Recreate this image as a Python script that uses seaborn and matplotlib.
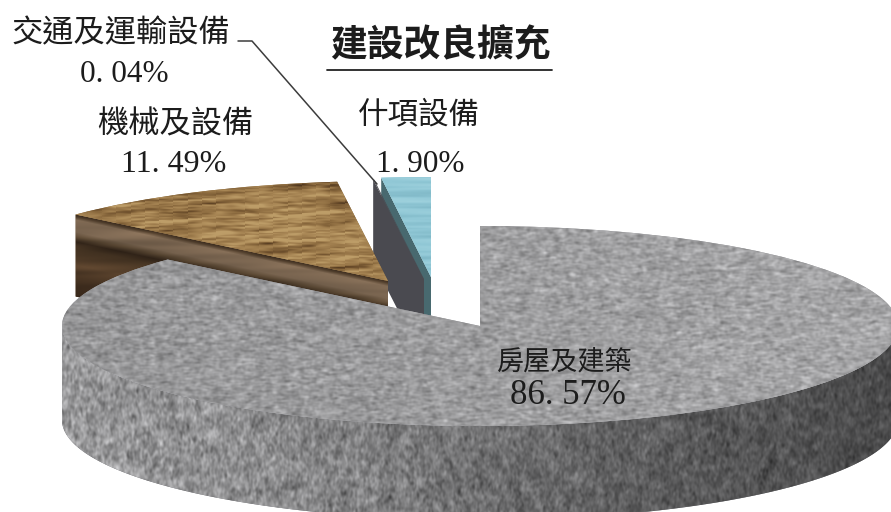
import numpy as np
import matplotlib
matplotlib.use("Agg")
import matplotlib.pyplot as plt
import seaborn as sns
from matplotlib.colors import LinearSegmentedColormap
from matplotlib.patches import Polygon

# data
categories = ["房屋及建築", "機械及設備", "交通及運輸設備", "什項設備"]
shares = [86.57, 11.49, 0.04, 1.90]
title = "建設改良擴充"

W, H = 891, 512
RX, RY = 418, 100     # ellipse radii in pixels
CX, CY = 480, 326     # centre of the big slice
DEPTH = 82
MAIN_DEPTH = 94

# where each slice tip sits in the picture
tips = {0: (480, 326), 1: (388, 281), 2: (424, 279), 3: (431, 277)}
CJK = "Noto Sans CJK TC"
NUM = "Liberation Serif"

sns.set_theme(style="white")
rng = np.random.default_rng(7)


def px(x, y):
    # pixel position -> data units of the squashed unit pie
    return (x - CX) / RX, (CY - y) / RY


def noise(sx, sy):
    # smoothed noise used only as surface texture
    a = rng.standard_normal((H, W))
    fy = np.fft.fftfreq(H)[:, None]
    fx = np.fft.rfftfreq(W)[None, :]
    g = np.exp(-2 * np.pi**2 * ((fx * sx) ** 2 + (fy * sy) ** 2))
    out = np.fft.irfft2(np.fft.rfft2(a) * g, s=(H, W))
    return (out - out.mean()) / out.std()


def put_texture(img, clip, z, cmap=None):
    im = ax.imshow(img, extent=(px(0, 0)[0], px(W, 0)[0], px(0, H)[1], px(0, 0)[1]),
                   origin="upper", aspect="auto", cmap=cmap, vmin=0, vmax=1,
                   interpolation="bilinear", zorder=z)
    im.set_clip_path(clip)
    return im


def edge_wall(wedge, z, color):
    # cut face of a slice, pushed straight down by DEPTH
    t = np.deg2rad(wedge.theta2)
    cx, cy = wedge.center
    ox, oy = cx + np.cos(t), cy + np.sin(t)
    d = DEPTH / RY
    wall = Polygon([(ox, oy), (cx, cy), (cx, cy - d), (ox, oy - d)],
                   facecolor=color, edgecolor="none", zorder=z)
    ax.add_patch(wall)
    return wall


def gray_img(v):
    v = np.clip(v / 255, 0, 1)
    return np.dstack([v, v, v * 1.01]).clip(0, 1)


fig = plt.figure(figsize=(W / 100, H / 100), dpi=100)
ax = fig.add_axes([0, 0, 1, 1])

colors = sns.color_palette(["#9b9b9f", "#8a6a3e", "#4a4a50", "#8fc7d6"])
wedges, _ = ax.pie(shares, colors=colors, startangle=90, counterclock=False, radius=1)
ax.set_aspect("auto")
for i, w in enumerate(wedges):
    w.set_center(px(*tips[i]))
    w.set_linewidth(0)

main, wood, thin, misc = wedges
misc.set_zorder(2)
thin.set_zorder(3.1)
wood.set_zorder(5)
main.set_zorder(7)

# teal slice
edge_wall(misc, 1, "#48696f")
streak = np.clip(0.5 + 0.12 * noise(30, 1), 0, 1)
teal_map = LinearSegmentedColormap.from_list("teal", ["#6fa9b8", "#91c8d6", "#a9d8e2"])
put_texture(streak, misc, 2.1, teal_map)

# thin dark slice, only its cut face shows
edge_wall(thin, 3, "#4a4a50")

# wood slice: moulded bands on the cut face, grain on the top
wall = edge_wall(wood, 4, "#5f4830")
t2 = np.deg2rad(wood.theta2)
x0, y0 = tips[1][0] + RX * np.cos(t2), tips[1][1] - RY * np.sin(t2)
slope = (tips[1][1] - y0) / (tips[1][0] - x0)
yy, xx = np.mgrid[0:H, 0:W]
d = yy - (y0 + slope * (xx - x0))
stops = [0, 2, 5, 17, 22, 27, 33, 50, 62, 82]
r = np.interp(d, stops, [62, 82, 128, 118, 88, 52, 72, 92, 74, 60])
g = np.interp(d, stops, [46, 64, 106, 98, 70, 38, 54, 68, 54, 42])
b = np.interp(d, stops, [32, 46, 84, 78, 50, 26, 36, 46, 36, 28])
wobble = 1 + 0.06 * noise(40, 2)
put_texture(np.clip(np.dstack([r, g, b]) * wobble[..., None] / 255, 0, 1), wall, 4.1)

grain = 0.8 * noise(14, 0.9) + 0.5 * noise(5, 0.7) + 0.35 * noise(45, 4)
shift = ((xx - 230) * 0.07).astype(int)
grain = grain[(yy + shift) % H, xx]
wood_map = LinearSegmentedColormap.from_list(
    "wood", ["#3e2a18", "#6b4d2b", "#8d6c40", "#a68453", "#bd9d68"])
put_texture(np.clip(0.63 + 0.19 * grain, 0, 1), wood, 5.1, wood_map)

# big slice: outer wall then granite top
ang = np.deg2rad(np.linspace(180, 360, 200))
arc = np.column_stack([np.cos(ang), np.sin(ang)])
drop = arc - [0, MAIN_DEPTH / RY]
side = Polygon(np.vstack([arc, drop[::-1]]), facecolor="#707076", edgecolor="none", zorder=6)
ax.add_patch(side)
shade = np.interp(xx, [62, 250, 420, 600, 760, 891], [152, 140, 122, 98, 84, 74])
rough = 0.8 * noise(0.9, 1.6) + 0.5 * noise(2.5, 3)
put_texture(gray_img(shade + 13 * (shade / 120) * rough), side, 6.1)

light = np.interp(xx, [62, 480, 891], [150, 156, 166])
top = 0.8 * noise(2.2, 0.9) + 0.5 * noise(1.2, 1.2)
put_texture(gray_img(light + 11 * top), main, 7.1)

# leader line
lx, ly = zip(px(238, 41), px(252, 41), px(377, 184))
ax.plot(lx, ly, color="#3c3c3c", lw=1.1, zorder=8)


def label(x, y, s, size, family, **kw):
    ax.text(*px(x, y), s, fontsize=size, family=family, color="#1c1c1c",
            ha="center", va="center", zorder=10, **kw)


def pct(v):
    return f"{v:.2f}".replace(".", ". ") + "%"


label(565, 362, categories[0], 19.5, CJK)
label(568, 396, pct(shares[0]), 25, NUM)
label(175, 125, categories[1], 22.5, CJK)
label(174, 165, pct(shares[1]), 23, NUM)
label(121, 33, categories[2], 22.5, CJK)
label(124, 75, pct(shares[2]), 22.5, NUM)
label(419, 115, categories[3], 22, CJK)
label(420, 164, pct(shares[3]), 22.5, NUM)

label(440, 46, title, 26.5, CJK, fontweight="bold")
ux, uy = zip(px(327, 70), px(552, 70))
ax.plot(ux, uy, color="#222222", lw=1.3, zorder=10)

ax.set_xlim(px(0, 0)[0], px(W, 0)[0])
ax.set_ylim(px(0, H)[1], px(0, 0)[1])
ax.axis("off")
fig.savefig("out.png", dpi=100, facecolor="white")
